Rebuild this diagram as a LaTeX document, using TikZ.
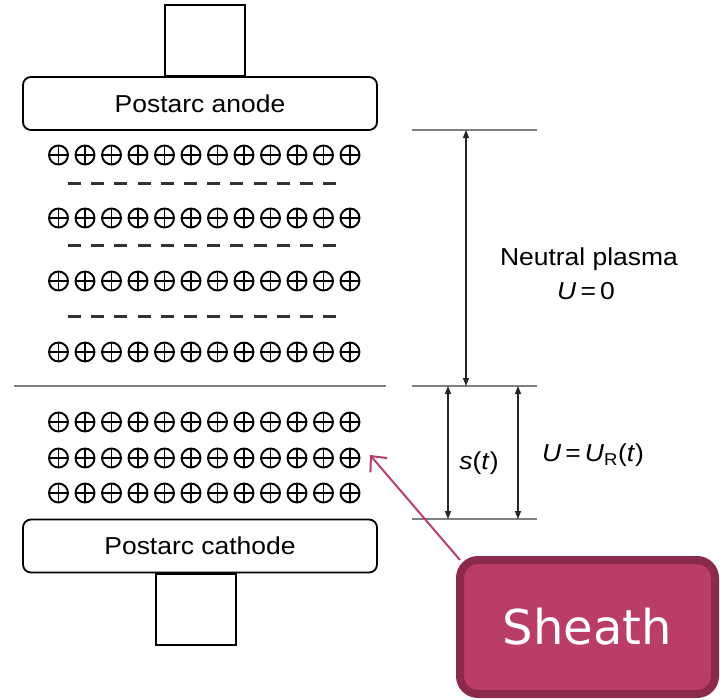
\documentclass[tikz,border=0pt]{standalone}
\usepackage{fontspec}
\setmainfont{Liberation Sans}
\newfontfamily\labfont[FakeStretch=1.08]{Liberation Sans}
\newfontfamily\sheathfont{DejaVu Sans}
\usetikzlibrary{arrows.meta}
\definecolor{sheathfill}{HTML}{B93D65}
\definecolor{sheathborder}{HTML}{8B2A4A}
\definecolor{dashgray}{HTML}{333333}
\definecolor{linegray}{HTML}{808080}
\begin{document}
\begin{tikzpicture}[x=1pt,y=-1pt,
  electrode/.style={draw, line width=1.8pt, rounded corners=8pt, fill=white,
    minimum width=354pt, minimum height=53pt, inner sep=0pt,
    font=\labfont\fontsize{24.5}{28}\selectfont},
  stembox/.style={draw, line width=1.8pt, minimum width=80pt, minimum height=71pt, inner sep=0pt},
  ionring/.style={line width=1.9pt, black},
  negdash/.style={line width=3pt, dashgray},
  dimline/.style={linegray, line width=1.3pt},
  dimarrow/.style={{Triangle[length=8pt,width=6pt]}-{Triangle[length=8pt,width=6pt]}, line width=1.1pt, black!85},
  lab/.style={font=\labfont\fontsize{24.5}{28}\selectfont, inner sep=0pt},
  sheathbox/.style={draw=sheathborder, fill=sheathfill, line width=8pt, rounded corners=18pt,
    minimum width=255pt, minimum height=134pt, inner sep=0pt, text=white,
    font=\sheathfont\fontsize{48}{56}\selectfont},
  pinkarrow/.style={-{Straight Barb[length=12pt,width=22pt]}, line width=2pt, sheathfill}
]
\useasboundingbox (0,0) rectangle (720,699);

% electrodes
\node[stembox, anchor=south] (stemtop) at (205,77) {};
\node[electrode] (anode) at (200,103.5) {Postarc anode};
\node[electrode] (cathode) at (200,546) {Postarc cathode};
\node[stembox, anchor=north] (stembot) at (196,573) {};

% positive ions
\foreach \y in {155,218,281,352,422,458,493} {
  \foreach \i in {0,...,11} {
    \draw[ionring] (58.5+26.5*\i,\y) circle (9.5pt);
    \draw[ionring] (58.5+26.5*\i-9.5,\y) -- (58.5+26.5*\i+9.5,\y);
    \draw[ionring] (58.5+26.5*\i,\y-9.5) -- (58.5+26.5*\i,\y+9.5);
  }
}
% electrons
\foreach \y in {183,245,316} {
  \foreach \i in {0,...,11} {
    \draw[negdash] (68+23.2*\i,\y) -- ++(13,0);
  }
}

% plasma / sheath boundary
\coordinate (sepL) at (14,386);
\coordinate (sepR) at (386,386);
\draw[dimline, line width=1.6pt] (sepL) -- (sepR);

% dimension lines
\coordinate (t1) at (412,130); \coordinate (t2) at (537,130);
\coordinate (m1) at (412,386); \coordinate (m2) at (537,386);
\coordinate (b1) at (412,519); \coordinate (b2) at (537,519);
\draw[dimline] (t1) -- (t2);
\draw[dimline] (m1) -- (m2);
\draw[dimline] (b1) -- (b2);

\coordinate (ntop) at (466,130); \coordinate (nbot) at (466,386);
\draw[dimarrow] (ntop) -- (nbot);
\coordinate (stop) at (448,386); \coordinate (sbot) at (448,519);
\draw[dimarrow] (stop) -- (sbot);
\coordinate (utop) at (518,386); \coordinate (ubot) at (518,519);
\draw[dimarrow] (utop) -- (ubot);

% labels
\node[lab] (np) at (589,259) {Neutral plasma};
\node[lab] (u0) at (586,291) {\textit{U}\,=\,0};
\node[lab] (st) at (479,463) {\textit{s}(\textit{t})};
\node[lab] (ur) at (593,455) {\textit{U}\,=\,\textit{U}\textsubscript{R}(\textit{t})};

% sheath callout
\node[sheathbox] (sheath) at (587.5,627) {Sheath};
\coordinate (tip) at (370,455);
\draw[pinkarrow] ([shift={(4,4)}]sheath.north west) -- (tip);
\end{tikzpicture}
\end{document}
